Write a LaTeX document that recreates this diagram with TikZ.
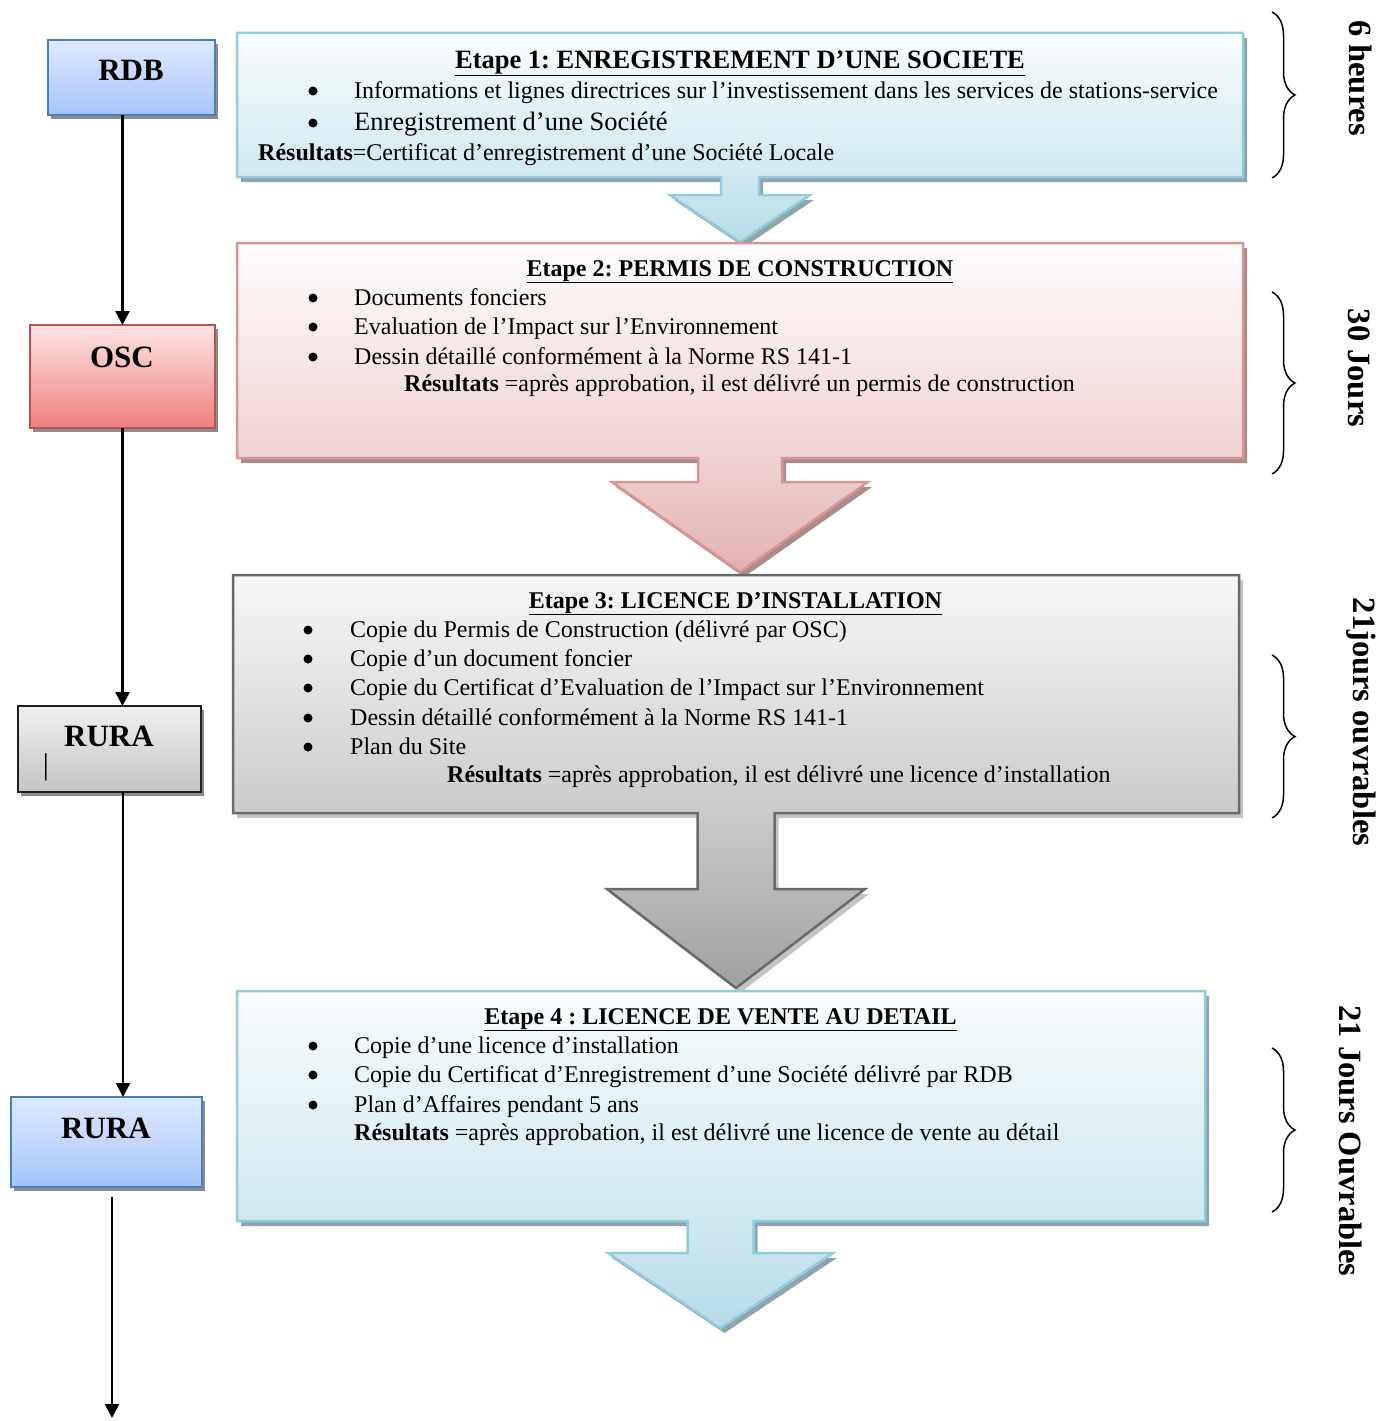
\documentclass[tikz,border=0pt]{standalone}
\usepackage{fontspec}
\setmainfont{Liberation Serif}
\usetikzlibrary{arrows.meta,decorations.pathreplacing,shadows}
\definecolor{blueTop}{HTML}{FAFDFE}
\definecolor{blueMid}{HTML}{CFE8EF}
\definecolor{blueBot}{HTML}{B6DCE7}
\definecolor{blueLine}{HTML}{93CCDC}
\definecolor{blueShadow}{HTML}{8EA6AB}
\definecolor{pinkTop}{HTML}{FFFDFD}
\definecolor{pinkMid}{HTML}{EFD2D2}
\definecolor{pinkBot}{HTML}{E3B1B1}
\definecolor{pinkLine}{HTML}{D99594}
\definecolor{pinkShadow}{HTML}{A98B8B}
\definecolor{grayTop}{HTML}{F7F7F7}
\definecolor{grayMid}{HTML}{CBCBCB}
\definecolor{grayBot}{HTML}{A0A0A0}
\definecolor{grayLine}{HTML}{6A6A6A}
\definecolor{grayShadow}{HTML}{C4C4C4}
\definecolor{lbTop}{HTML}{DFE9FF}
\definecolor{lbBot}{HTML}{A6C4FB}
\definecolor{lbLine}{HTML}{4A7EBB}
\definecolor{lrTop}{HTML}{FFE4E4}
\definecolor{lrBot}{HTML}{EE7F7F}
\definecolor{lrLine}{HTML}{C0504D}
\definecolor{lgTop}{HTML}{EFEFEF}
\definecolor{lgBot}{HTML}{C4C4C4}
\definecolor{lgLine}{HTML}{1E1E1E}
\newcommand\bodyf{\fontsize{24}{28}\selectfont}
\newcommand\bigbodyf{\fontsize{26.5}{30}\selectfont}
\newcommand\titlef{\fontsize{24}{28}\selectfont\bfseries}
\newcommand\titleAf{\fontsize{26.5}{30}\selectfont\bfseries}
\newcommand\labelf{\fontsize{31}{35}\selectfont\bfseries}
\newcommand\sidef{\fontsize{32.5}{36}\selectfont\bfseries}
% #1 L  #2 T  #3 R  #4 B  #5 shaft half  #6 head top  #7 head half  #8 tip y  #9 centre x
\newcommand\cp{blue}
\newcommand\callout[9]{%
  \fill[fill=\cp Shadow, shift={(4,5)}] (#1,#2) -- (#3,#2) -- (#3,#4) -- ({#9+#5},#4) -- ({#9+#5},#6) -- ({#9+#7},#6) -- (#9,#8) -- ({#9-#7},#6) -- ({#9-#5},#6) -- ({#9-#5},#4) -- (#1,#4) -- cycle;
  \shade[top color=\cp Top, bottom color=\cp Mid] (#1,#2) rectangle (#3,#4);
  \shade[top color=\cp Mid, bottom color=\cp Bot] ({#9-#5},{#4-1}) -- ({#9+#5},{#4-1}) -- ({#9+#5},#6) -- ({#9+#7},#6) -- (#9,#8) -- ({#9-#7},#6) -- ({#9-#5},#6) -- cycle;
  \draw[draw=\cp Line, line width=2.5, line join=miter] (#1,#2) -- (#3,#2) -- (#3,#4) -- ({#9+#5},#4) -- ({#9+#5},#6) -- ({#9+#7},#6) -- (#9,#8) -- ({#9-#7},#6) -- ({#9-#5},#6) -- ({#9-#5},#4) -- (#1,#4) -- cycle;
}
\tikzset{
  lbox/.style={rectangle, inner sep=0pt, outer sep=0pt, line width=2,
    drop shadow={shadow xshift=3pt, shadow yshift=-4pt, fill=black!45, opacity=1}},
  conn/.style={line width=2.6, -{Triangle[width=14pt,length=14pt]}},
  txt/.style={anchor=base west, inner sep=0pt, font=\bodyf},
  bul/.style={circle, fill=black, inner sep=0pt, minimum size=9pt, yshift=7pt},
  ttl/.style={anchor=base, inner sep=0pt, font=\titlef},
  side/.style={rotate=-90, inner sep=0pt, font=\sidef},
  brc/.style={line width=1.5, decorate, decoration={brace, amplitude=23pt}}
}
\begin{document}
\frenchspacing
\begin{tikzpicture}[x=1pt,y=-1pt]
\useasboundingbox[fill=white] (0,0) rectangle (1379,1421);

% big step shapes
\renewcommand\cp{blue}
\callout{237}{33}{1243}{177}{19}{195}{70}{242}{740}
\renewcommand\cp{pink}
\callout{237}{243}{1243}{458}{42}{482}{128}{572}{740}
\renewcommand\cp{gray}
\callout{233}{575}{1239}{813}{38.5}{889}{129}{988}{736}
\renewcommand\cp{blue}
\callout{237}{991}{1205}{1221}{33}{1253}{112.5}{1328}{720.5}

% step 1 text
\node[ttl, font=\titleAf] (t1) at (740,68) {\underline{Etape 1: ENREGISTREMENT D’UNE SOCIETE}};
\node[bul] (b1a) at (313,98) {};
\node[txt] (l1a) at (354,98) {Informations et lignes directrices sur l’investissement dans les services de stations-service};
\node[bul] (b1b) at (313,130) {};
\node[txt, font=\bigbodyf] (l1b) at (354,130) {Enregistrement d’une Société};
\node[txt] (r1) at (258,160) {\textbf{Résultats}=Certificat d’enregistrement d’une Société Locale};

% step 2 text
\node[ttl] (t2) at (740,276) {\underline{Etape 2: PERMIS DE CONSTRUCTION}};
\node[bul] (b2a) at (313,305) {};
\node[txt] (l2a) at (354,305) {Documents fonciers};
\node[bul] (b2b) at (313,334) {};
\node[txt] (l2b) at (354,334) {Evaluation de l’Impact sur l’Environnement};
\node[bul] (b2c) at (313,364) {};
\node[txt] (l2c) at (354,364) {Dessin détaillé conformément à la Norme RS 141-1};
\node[txt] (r2) at (404,391) {\textbf{Résultats} =après approbation, il est délivré un permis de construction};

% step 3 text
\node[ttl] (t3) at (735.5,608) {\underline{Etape 3: LICENCE D’INSTALLATION}};
\node[bul] (b3a) at (308,637) {};
\node[txt] (l3a) at (350,637) {Copie du Permis de Construction (délivré par OSC)};
\node[bul] (b3b) at (308,666) {};
\node[txt] (l3b) at (350,666) {Copie d’un document foncier};
\node[bul] (b3c) at (308,695) {};
\node[txt] (l3c) at (350,695) {Copie du Certificat d’Evaluation de l’Impact sur l’Environnement};
\node[bul] (b3d) at (308,725) {};
\node[txt] (l3d) at (350,725) {Dessin détaillé conformément à la Norme RS 141-1};
\node[bul] (b3e) at (308,754) {};
\node[txt] (l3e) at (350,754) {Plan du Site};
\node[txt] (r3) at (447,782) {\textbf{Résultats} =après approbation, il est délivré une licence d’installation};

% step 4 text
\node[ttl] (t4) at (720.5,1024) {\underline{Etape 4 : LICENCE DE VENTE AU DETAIL}};
\node[bul] (b4a) at (313,1053) {};
\node[txt] (l4a) at (354,1053) {Copie d’une licence d’installation};
\node[bul] (b4b) at (313,1082) {};
\node[txt] (l4b) at (354,1082) {Copie du Certificat d’Enregistrement d’une Société délivré par RDB};
\node[bul] (b4c) at (313,1112) {};
\node[txt] (l4c) at (354,1112) {Plan d’Affaires pendant 5 ans};
\node[txt] (r4) at (354,1140) {\textbf{Résultats} =après approbation, il est délivré une licence de vente au détail};

% left boxes
\node[lbox, draw=lbLine, top color=lbTop, bottom color=lbBot, minimum width=167pt, minimum height=75pt] (rdb) at (131.5,77.5) {};
\node[lbox, draw=lrLine, top color=lrTop, bottom color=lrBot, minimum width=185pt, minimum height=103pt] (osc) at (122.5,376.5) {};
\node[lbox, draw=lgLine, top color=lgTop, bottom color=lgBot, minimum width=183pt, minimum height=86pt] (rura1) at (109.5,749) {};
\node[lbox, draw=lbLine, top color=lbTop, bottom color=lbBot, minimum width=191pt, minimum height=90pt] (rura2) at (106.5,1142) {};
\node[font=\labelf, inner sep=0pt] (rdbl) at (131,70) {RDB};
\node[font=\labelf, inner sep=0pt] (oscl) at (122,357) {OSC};
\node[font=\labelf, inner sep=0pt] (rura1l) at (109,736) {RURA};
\node[font=\labelf, inner sep=0pt] (rura2l) at (106,1128) {RURA};
\node[font=\fontsize{30}{30}\selectfont, inner sep=0pt] (cursor) at (46,767) {|};

% connectors
\coordinate (endpt) at (112,1418);
\draw[conn] (rdb.south -| osc.north) -- (osc.north);
\draw[conn] (osc.south) -- (osc.south |- rura1.north);
\draw[conn] ([xshift=13.5pt]rura1.south) -- ([xshift=16.5pt]rura2.north);
\draw[conn] ([xshift=5.5pt,yshift=-10pt]rura2.south) -- (endpt);

% braces
\draw[brc] (1272,12) -- (1272,178);
\draw[brc] (1272,292) -- (1272,474);
\draw[brc] (1272,655) -- (1272,818);
\draw[brc] (1272,1048) -- (1272,1212);

% durations
\node[side] (d1) at (1361,78) {6 heures};
\node[side] (d2) at (1359,368) {30 Jours};
\node[side] (d3) at (1361,722) {21jours ouvrables};
\node[side] (d4) at (1351,1141) {21 Jours Ouvrables};
\end{tikzpicture}
\end{document}
